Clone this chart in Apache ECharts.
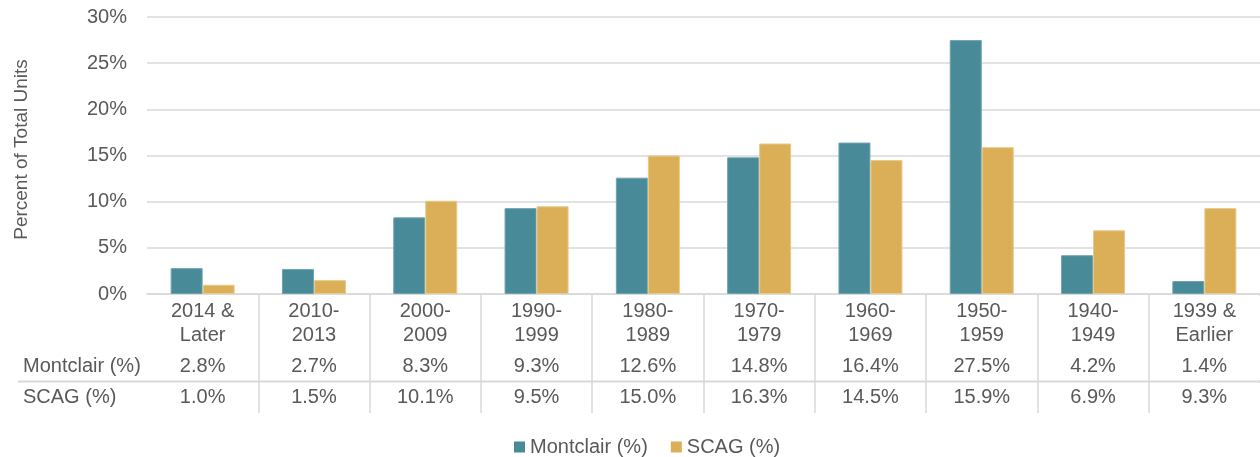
<!DOCTYPE html>
<html>
<head>
<meta charset="utf-8">
<script src="https://cdn.jsdelivr.net/npm/echarts@6/dist/echarts.min.js"></script>
<style>
    html, body { margin: 0; padding: 0; background: #fff; }
    #chart { width: 1260px; height: 457px; }
</style>
</head>
<body>
<div id="chart"></div>
<script>
// year built categories
var categories = ['2014 &\nLater', '2010-\n2013', '2000-\n2009', '1990-\n1999', '1980-\n1989',
    '1970-\n1979', '1960-\n1969', '1950-\n1959', '1940-\n1949', '1939 &\nEarlier'];
var montclair = [2.8, 2.7, 8.3, 9.3, 12.6, 14.8, 16.4, 27.5, 4.2, 1.4];
var scag = [1.0, 1.5, 10.1, 9.5, 15.0, 16.3, 14.5, 15.9, 6.9, 9.3];
var seriesNames = ['Montclair (%)', 'SCAG (%)'];

var textColor = '#595959';
var lineColor = '#d9d9d9';
var font = 'Liberation Sans';

var fmt = function(arr){
    return arr.map(function(v){ return v.toFixed(1) + '%'; });
};

var chart = echarts.init(document.getElementById('chart'));

// extra x axes used as the data table rows under the chart
var tableAxis = function(data, offset){
    return {
        type: 'category',
        data: data,
        position: 'bottom',
        offset: offset,
        axisLine: { show: false },
        axisTick: { show: false },
        axisLabel: {
            interval: 0,
            margin: 0,
            color: textColor,
            fontFamily: font,
            fontSize: 20,
            lineHeight: 20
        }
    };
};

var option = {
    animation: false,
    grid: { left: 147, width: 1115, top: 17, bottom: 163, containLabel: false },
    legend: {
        data: seriesNames,
        left: 509,
        top: 432,
        itemWidth: 11,
        itemHeight: 11,
        itemGap: 23,
        icon: 'rect',
        itemStyle: { borderWidth: 0 },
        textStyle: { color: textColor, fontFamily: font, fontSize: 20, padding: [0, 0, 0, 0] }
    },
    xAxis: [
        {
            type: 'category',
            data: categories,
            axisLine: { show: true, lineStyle: { color: lineColor, width: 1.5 } },
            axisTick: {
                show: true,
                length: 119,
                interval: function(index){ return index > 0; },
                lineStyle: { color: lineColor, width: 1.5 }
            },
            axisLabel: {
                interval: 0,
                margin: 5,
                color: textColor,
                fontFamily: font,
                fontSize: 20,
                lineHeight: 24
            }
        },
        tableAxis(fmt(montclair), 62),
        tableAxis(fmt(scag), 93)
    ],
    yAxis: {
        type: 'value',
        min: 0,
        max: 30,
        interval: 5,
        name: 'Percent of Total Units',
        nameLocation: 'middle',
        nameGap: 116,
        nameTextStyle: { color: textColor, fontFamily: font, fontSize: 19, padding: [0, 0, 0, 12] },
        axisLine: { show: false },
        axisTick: { show: false },
        axisLabel: {
            formatter: '{value}%',
            margin: 20,
            color: textColor,
            fontFamily: font,
            fontSize: 20
        },
        splitLine: { lineStyle: { color: lineColor, width: 1.5 } }
    },
    graphic: [
        // hide the closing tick at the right edge (table has no right border)
        {
            type: 'rect',
            z: 100,
            shape: { x: 1255, y: 296, width: 5, height: 84 },
            style: { fill: '#fff' }
        },
        {
            type: 'rect',
            z: 100,
            shape: { x: 1255, y: 383, width: 5, height: 34 },
            style: { fill: '#fff' }
        },
        {
            type: 'line',
            shape: { x1: 18, y1: 381.5, x2: 1260, y2: 381.5 },
            style: { stroke: lineColor, lineWidth: 2 }
        },
        {
            type: 'text',
            left: 23,
            top: 356,
            style: { text: seriesNames[0], fill: textColor, font: '20px "Liberation Sans"' }
        },
        {
            type: 'text',
            left: 23,
            top: 387,
            style: { text: seriesNames[1], fill: textColor, font: '20px "Liberation Sans"' }
        }
    ],
    series: [
        {
            name: seriesNames[0],
            type: 'bar',
            data: montclair,
            barWidth: 32,
            barGap: '0%',
            itemStyle: { color: '#498A98', borderColor: '#6fa3af', borderWidth: 1 }
        },
        {
            name: seriesNames[1],
            type: 'bar',
            data: scag,
            barWidth: 32,
            barGap: '0%',
            itemStyle: { color: '#DBAE58', borderColor: '#e8c98a', borderWidth: 1 }
        }
    ]
};

chart.setOption(option);
</script>
</body>
</html>
